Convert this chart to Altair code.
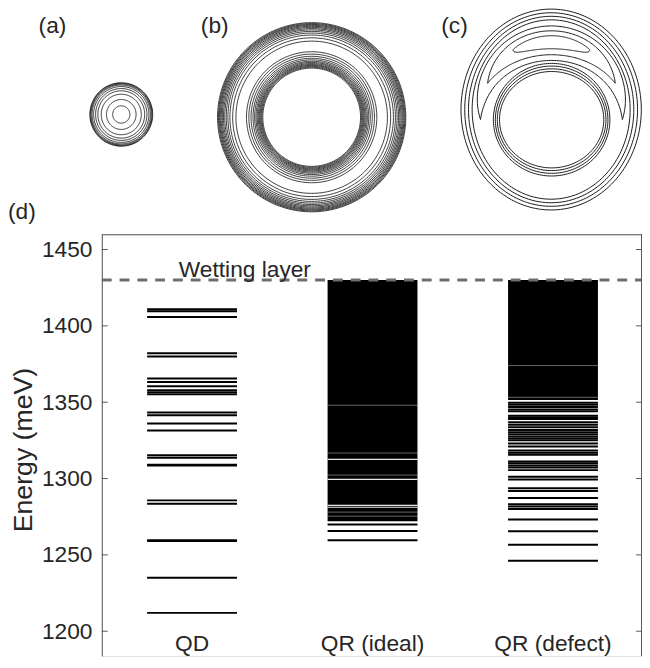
import numpy as np
import pandas as pd
import altair as alt

FONT = "Liberation Sans"
INK = "#262626"

# ---------------- data: energy levels (meV) ----------------
categories = ["QD", "QR (ideal)", "QR (defect)"]
wetting_layer = 1430
y_ticks = [1200, 1250, 1300, 1350, 1400, 1450]

qd_levels = [1212.0, 1235.0, 1259.0, 1259.6, 1283.5, 1285.7, 1308.5, 1309.0, 1313.6,
             1315.2, 1331.4, 1336.0, 1341.5, 1343.3, 1355.2, 1356.6, 1357.9, 1360.5,
             1363.3, 1365.5, 1380.0, 1382.0, 1405.8, 1409.6, 1410.9]

ideal_levels = [1259.6, 1265.7, 1269.9]
ideal_continuum = [1272.1, 1430.0]
ideal_gaps_clear = [1312.6, 1299.5, 1282.4, 1281.2]
ideal_gaps_faint = [1348.0, 1316.7, 1302.3, 1278.0, 1275.3]

defect_levels = [1246.2, 1256.6, 1265.4, 1273.2, 1280.0, 1281.7, 1283.2, 1287.2, 1291.9,
                 1293.6, 1299.4, 1301.1, 1305.5, 1307.2, 1308.6, 1310.0, 1311.2, 1315.6,
                 1316.9, 1318.3, 1321.0, 1322.9, 1325.1, 1326.3, 1327.6, 1329.0, 1330.4,
                 1331.8, 1333.6, 1335.3, 1336.9, 1339.0, 1340.1, 1341.2, 1344.1, 1345.3,
                 1346.9, 1348.3, 1349.6]
defect_continuum = [1351.5, 1430.0]
defect_gaps_faint = [1374.0, 1353.2]

# ---------------- data: contour sketches (radii, px) ----------------
a_radii = [8.7, 15.0, 20.3, 23.7, 26.0, 28.0, 29.5, 30.5, 31.3, 31.8]
b_outer_radii = [95.3, 94.4, 93.5, 92.6, 91.6, 90.5, 89.3, 88.0, 86.5, 84.8, 82.8, 80.0, 76.7]
b_inner_radii = [49.5, 50.4, 51.3, 52.2, 53.1, 54.1, 55.2, 56.4, 57.8, 59.4, 61.4, 63.6, 66.0]
c_outer_rx = [91.3, 87.5, 83.7, 80.0]
c_outer_ry = [101.7, 98.0, 94.4, 90.8]
c_inner_rx = [59.0, 57.0, 55.0, 52.8]
c_inner_ry = [57.0, 54.3, 51.5, 48.8]
# crescents around the defect: tip angle (deg), tip fraction, outer top fraction, inner top fraction
c_crescent_tip_deg = [93, 64, 32]
c_crescent_u_tip = [0.40, 0.40, 0.45]
c_crescent_u_out = [0.69, 0.60, 0.51]
c_crescent_u_in = [0.055, 0.16, 0.27]

# ---------------- layout ----------------
PAD_L, PAD_T = 95, 225
W, H = 547, 427
PLOT_LEFT, PLOT_TOP = 8 + PAD_L, 8 + PAD_T
HALF = 0.249

pos = {c: i + 1 for i, c in enumerate(categories)}


def level_frame(cat, vals):
    return pd.DataFrame({"cat": cat, "pos": pos[cat], "E": vals})


levels_df = pd.concat([level_frame("QD", qd_levels),
                       level_frame("QR (ideal)", ideal_levels),
                       level_frame("QR (defect)", defect_levels)])
cont_df = pd.DataFrame({"cat": ["QR (ideal)", "QR (defect)"],
                        "pos": [pos["QR (ideal)"], pos["QR (defect)"]],
                        "E1": [ideal_continuum[0], defect_continuum[0]],
                        "E2": [ideal_continuum[1], defect_continuum[1]]})
gaps_clear_df = level_frame("QR (ideal)", ideal_gaps_clear)
gaps_faint_df = pd.concat([level_frame("QR (ideal)", ideal_gaps_faint),
                           level_frame("QR (defect)", defect_gaps_faint)])
labels_df = pd.DataFrame({"cat": categories, "pos": [pos[c] for c in categories]})
ticks_df = pd.DataFrame({"E": y_ticks})
wl_df = pd.DataFrame({"E": [wetting_layer], "t": ["Wetting layer"]})

xs = alt.Scale(domain=[0.5, 0.5 + W / 182.75], nice=False, zero=False)
ys = alt.Scale(domain=[1183.8, 1460], nice=False, zero=False)


def span(ch):
    return ch.transform_calculate(xa=f"datum.pos - {HALF}", xb=f"datum.pos + {HALF}")


blocks = span(alt.Chart(cont_df).mark_rect(color="black")).encode(
    x=alt.X("xa:Q", scale=xs, axis=None), x2="xb:Q",
    y=alt.Y("E1:Q", scale=ys), y2="E2:Q")

levels = span(alt.Chart(levels_df).mark_rule(color="black", strokeWidth=2)).encode(
    x=alt.X("xa:Q", scale=xs, axis=None), x2="xb:Q",
    y=alt.Y("E:Q", scale=ys))

gaps_clear = span(alt.Chart(gaps_clear_df).mark_rule(color="white", strokeWidth=1.2, opacity=0.9)).encode(
    x=alt.X("xa:Q", scale=xs, axis=None), x2="xb:Q", y=alt.Y("E:Q", scale=ys))
gaps_faint = span(alt.Chart(gaps_faint_df).mark_rule(color="white", strokeWidth=1, opacity=0.4)).encode(
    x=alt.X("xa:Q", scale=xs, axis=None), x2="xb:Q", y=alt.Y("E:Q", scale=ys))

ticks_l = alt.Chart(ticks_df).mark_rule(color="#555555", strokeWidth=1).encode(
    y=alt.Y("E:Q", scale=ys,
            axis=alt.Axis(values=y_ticks, format="d", ticks=False, grid=False, domain=True,
                          domainColor="#555555", domainWidth=1, labelFontSize=23,
                          labelColor=INK, labelFont=FONT, labelPadding=10,
                          title="Energy (meV)", titleFontSize=27, titleFont=FONT,
                          titleFontWeight="normal", titleColor=INK, titlePadding=4,
                          titleY=218)),
    x=alt.value(0), x2=alt.value(6))
ticks_r = alt.Chart(ticks_df).mark_rule(color="#555555", strokeWidth=1).encode(
    y=alt.Y("E:Q", scale=ys), x=alt.value(W - 6), x2=alt.value(W))
frame = alt.Chart(ticks_df.head(1)).mark_rule(color="#555555", strokeWidth=1).encode(
    y=alt.value(0.5), x=alt.value(0), x2=alt.value(W))
frame_r = alt.Chart(ticks_df.head(1)).mark_rule(color="#555555", strokeWidth=1).encode(
    x=alt.value(W - 0.5), y=alt.value(0), y2=alt.value(H))

wl_line = alt.Chart(wl_df).mark_rule(color="#6e6e6e", strokeWidth=3, strokeDash=[10, 8]).encode(
    y=alt.Y("E:Q", scale=ys), x=alt.value(0), x2=alt.value(W))
wl_text = alt.Chart(wl_df).mark_text(align="left", baseline="alphabetic", dy=-3,
                                     fontSize=23, font=FONT, color=INK).encode(
    y=alt.Y("E:Q", scale=ys), x=alt.value(78), text="t:N")

cat_text = alt.Chart(labels_df).mark_text(align="center", baseline="alphabetic",
                                          fontSize=23, font=FONT, color=INK).encode(
    x=alt.X("pos:Q", scale=xs, axis=None), y=alt.value(421.5), text="cat:N")

panel_labels = ["(a)", "(b)", "(c)", "(d)"]
panel_label_xy = [(-64, -203.5), (100.3, -203.5), (343.7, -203.5), (-95, -15.5)]
plab = []
for lab, (px, py) in zip(panel_labels, panel_label_xy):
    plab.append(alt.Chart(pd.DataFrame({"t": [lab]})).mark_text(
        align="left", baseline="alphabetic", fontSize=23, font=FONT, color=INK).encode(
        x=alt.value(px), y=alt.value(py), text="t:N"))

energy = alt.layer(blocks, levels, gaps_clear, gaps_faint, wl_line, wl_text, cat_text,
                   ticks_l, ticks_r, frame, frame_r, *plab)

# ---------------- contour sketches ----------------
NPT = 181
tt = np.linspace(0, 2 * np.pi, NPT)


def ellipse_rows(rows, cid, cx, cy, rx, ry):
    for k, t in enumerate(tt):
        rows.append({"id": cid, "k": k, "x": cx + rx * np.cos(t), "y": cy + ry * np.sin(t)})


rows_a = []
for i, r in enumerate(a_radii):
    ellipse_rows(rows_a, i, 0, 0, r, r * 1.01)

rows_b = []
for i, r in enumerate(b_outer_radii + b_inner_radii):
    ellipse_rows(rows_b, i, 0, 0, r, r * 1.005)

rows_c = []
oc = (0.0, 5.3)
ic = (0.5, -5.0)
cid = 0
for rx, ry in zip(c_outer_rx, c_outer_ry):
    ellipse_rows(rows_c, cid, oc[0], oc[1], rx, ry)
    cid += 1
for rx, ry in zip(c_inner_rx, c_inner_ry):
    ellipse_rows(rows_c, cid, ic[0], ic[1], rx, ry)
    cid += 1


def ring_point(phi, u):
    xo, yo = oc[0] + c_outer_rx[0] * np.sin(phi), oc[1] + c_outer_ry[0] * np.cos(phi)
    xi, yi = ic[0] + c_inner_rx[0] * np.sin(phi), ic[1] + c_inner_ry[0] * np.cos(phi)
    return xi + u * (xo - xi), yi + u * (yo - yi)


for j, (tip, ut, uo, ui) in enumerate(zip(c_crescent_tip_deg, c_crescent_u_tip,
                                          c_crescent_u_out, c_crescent_u_in)):
    phis = np.linspace(-1, 1, 121)
    if j < 2:
        fo = 1 - phis ** 4
        fi = 1 - phis ** 2
    else:
        fo = np.sqrt(np.clip(1 - phis ** 2, 0, 1))
        fi = fo
    pts = []
    for s, f in zip(phis, fo):
        pts.append(ring_point(np.radians(tip) * s, ut + (uo - ut) * f))
    for s, f in zip(phis[::-1], fi[::-1]):
        pts.append(ring_point(np.radians(tip) * s, ut - (ut - ui) * f))
    pts.append(pts[0])
    for k, (x, y) in enumerate(pts):
        rows_c.append({"id": cid, "k": k, "x": x, "y": y})
    cid += 1


def contour_layer(rows, center_page, width, half=112):
    ox, oy = center_page[0] - PLOT_LEFT, center_page[1] - PLOT_TOP
    return alt.Chart(pd.DataFrame(rows)).mark_line(color="#1a1a1a", strokeWidth=width).encode(
        x=alt.X("x:Q", axis=None,
                scale=alt.Scale(domain=[-half, half], range=[ox - half, ox + half], nice=False, zero=False)),
        y=alt.Y("y:Q", axis=None,
                scale=alt.Scale(domain=[-half, half], range=[oy + half, oy - half], nice=False, zero=False)),
        detail="id:N", order="k:Q")


ca = contour_layer(rows_a, (122.7, 111.7), 0.9)
cb = contour_layer(rows_b, (315.5, 114.5), 0.85)
cc = contour_layer(rows_c, (558.0, 112.0), 1.0)

chart = alt.layer(energy, ca, cb, cc).resolve_scale(
    x="independent", y="independent"
).properties(
    width=W, height=H,
    autosize=alt.AutoSizeParams(type="none"),
    padding={"left": PAD_L, "top": PAD_T, "right": 0, "bottom": 0},
).configure_view(stroke=None).configure(font=FONT)

chart.save("out.html", embed_options={"renderer": "svg", "actions": False})
